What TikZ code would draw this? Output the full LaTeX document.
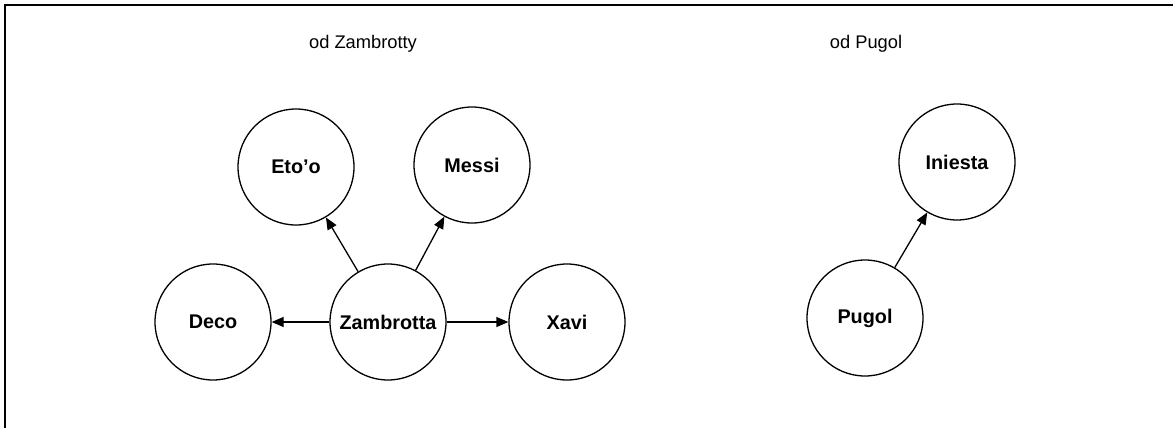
\documentclass[tikz,border=0pt]{standalone}
\usepackage{fontspec}
\setmainfont{Liberation Sans}
\usetikzlibrary{arrows.meta}
\begin{document}
\begin{tikzpicture}[x=1pt,y=-1pt,
  player/.style={draw, circle, line width=1.3pt, minimum size=116pt, inner sep=0pt,
    font=\fontsize{19.8}{23}\selectfont\bfseries},
  caption/.style={font=\fontsize{18.3}{22}\selectfont},
  link/.style={line width=1.3pt, -{Triangle[length=12pt,width=10pt]}}]
  \useasboundingbox (0,0) rectangle (1173,428);
  % open frame: top and left edges only
  \coordinate (fb) at (5,428);
  \coordinate (fc) at (5,5);
  \coordinate (fr) at (1173,5);
  \draw[line width=2pt] (fb) -- (fc) -- (fr);

  % group titles
  \node[caption] (t1) at (363,44) {od Zambrotty};
  \node[caption] (t2) at (866,44) {od Pugol};

  % first group
  \node[player] (zam) at (388,322) {Zambrotta};
  \node[player] (deco) at (213,322) {Deco};
  \node[player] (xavi) at (567,322) {Xavi};
  \node[player] (eto) at (296,167) {Eto’o};
  \node[player] (messi) at (472,165) {Messi};

  % second group
  \node[player] (pug) at (865,318) {Pugol};
  \node[player] (ini) at (957,162) {Iniesta};

  \draw[link] (zam) -- (deco);
  \draw[link] (zam) -- (xavi);
  \draw[link] (zam) -- (eto);
  \draw[link] (zam) -- (messi);
  \draw[link] (pug) -- (ini);
\end{tikzpicture}
\end{document}
